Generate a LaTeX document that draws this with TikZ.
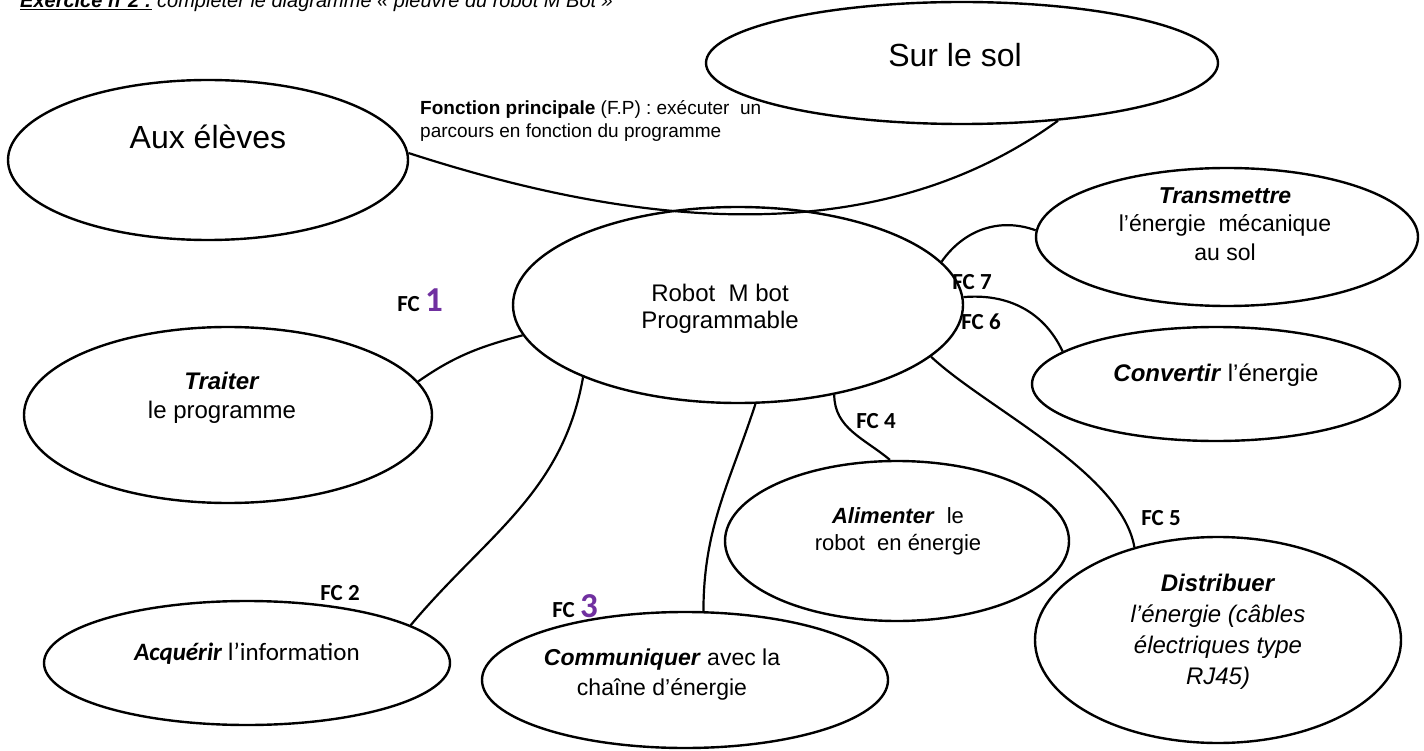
\documentclass[tikz,border=0pt]{standalone}
\usepackage{fontspec}
\setmainfont{Liberation Sans}
\newfontfamily\fcfont{Carlito}
\usetikzlibrary{shapes.geometric}
\definecolor{fcpurple}{HTML}{7030A0}
\newcommand{\fcnum}[1]{\textcolor{fcpurple}{\fontsize{35}{35}\selectfont #1}}
\begin{document}
\begin{tikzpicture}
[x=1pt,y=1pt,%
  ovalDecorate/.style={shape=ellipse,draw,line width=2.4pt,inner sep=0pt},
  lineDecorate/.style={-,line width=2.2pt},
  textDecorate/.style={align=center,font=\fontsize{23}{28}\selectfont},
  fcDecorate/.style={font=\fcfont\bfseries\fontsize{23}{23}\selectfont,inner sep=0pt}]
\clip (0,0) rectangle (1424,-751);
\fill[white] (0,0) rectangle (1424,-751);
%% title (cut at the top edge)
\node (title) [anchor=base west,inner sep=0pt,font=\fontsize{20}{20}\selectfont] at (20,-8)
  {\underline{\textbf{\textit{Exercice n°2 :}}}\textit{ compléter le diagramme « pieuvre du robot M Bot »}};
%% ellipses
\foreach \ovname/\x/\y/\w/\h in {
  aux/208/160/400/160, sol/962/63/512/122, robot/738/305/450/196,
  trans/1227/237/382/138, conv/1216/384/368/114, distr/1218/640/366/206,
  alim/897/541/344/160, comm/685/680/406/136, acq/247/663/406/124,
  trait/228/415/408/176}
{
  \node (\ovname) at (\x,-\y) [ovalDecorate,minimum width=\w,minimum height=\h] {};
}
%% texts
\node (auxtxt) at (208,-137) [textDecorate,font=\fontsize{32}{32}\selectfont] {Aux élèves};
\node (soltxt) at (955,-55) [textDecorate,font=\fontsize{32}{32}\selectfont] {Sur le sol};
\node (fptxt) at (420,-121) [anchor=west,align=left,inner sep=0pt,font=\fontsize{19}{23}\selectfont]
  {\textbf{Fonction principale} (F.P) : exécuter~ un\\parcours en fonction du programme};
\node (robottxt) at (720,-309) [textDecorate,font=\fontsize{24}{27}\selectfont] {Robot~ M bot\\Programmable};
\node (transtxt) at (1225,-224) [textDecorate,font=\fontsize{23}{28.5}\selectfont] {\textbf{\textit{Transmettre}}\\l’énergie~ mécanique\\au sol};
\node (convtxt) at (1216,-375) [textDecorate,font=\fontsize{24}{28}\selectfont] {\textbf{\textit{Convertir}} l’énergie};
\node (distrtxt) at (1218,-632) [textDecorate,font=\fontsize{24}{31}\selectfont]
  {\textbf{\textit{Distribuer}}\\\textit{l’énergie (câbles}\\\textit{électriques type}\\\textit{RJ45)}};
\node (alimtxt) at (898,-531) [textDecorate,font=\fontsize{22}{27}\selectfont] {\textbf{\textit{Alimenter}}~ le\\robot~ en énergie};
\node (commtxt) at (662,-675) [textDecorate,font=\fontsize{23}{30}\selectfont] {\textbf{\textit{Communiquer}} avec la\\chaîne d’énergie};
\node (acqtxt) at (247,-654) [textDecorate,font=\fcfont\fontsize{25}{28}\selectfont] {\textbf{\textit{Acquérir}} l’information};
\node (traittxt) at (222,-398) [textDecorate,font=\fontsize{24}{29}\selectfont] {\textbf{\textit{Traiter}}\\le programme};
%% FC labels
\node (fc1) at (420,-300) [fcDecorate] {FC \fcnum{1}};
\node (fc2) at (340,-593) [fcDecorate] {FC 2};
\node (fc3) at (575,-606) [fcDecorate] {FC \fcnum{3}};
\node (fc4) at (876,-421) [fcDecorate] {FC 4};
\node (fc5) at (1161,-518) [fcDecorate] {FC 5};
\node (fc6) at (981,-322) [fcDecorate] {FC 6};
\node (fc7) at (972,-282) [fcDecorate] {FC 7};
%% lines
\draw[lineDecorate] (aux.2) .. controls (600,-215) and (860,-265) .. (sol.-31);
\path
\foreach \startnode/\endnode/\o/\i/\l in {
  trait.10/robot.188/35/195/1, robot.205/acq.13/-100/50/1, robot.-80/comm.75/-108/90/1,
  robot.-43/alim.95/-90/140/1, robot.-15/distr.132/-43/100/0.7, robot.2/conv.168/5/115/1,
  robot.12/trans.178/55/160/1}
{
  (\startnode) edge[lineDecorate,out=\o,in=\i,looseness=\l] (\endnode)
};
\end{tikzpicture}
\end{document}
